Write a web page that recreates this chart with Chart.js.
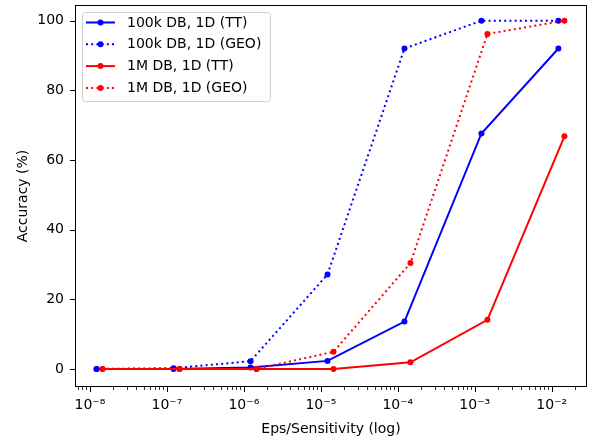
<!DOCTYPE html>
<html>
<head>
<meta charset="utf-8">
<script src="https://cdn.jsdelivr.net/npm/chart.js@4.4.0/dist/chart.umd.min.js"></script>
<style>
  html, body { margin: 0; padding: 0; background: #fff; }
  #wrap { width: 592px; height: 442px; position: relative; }
</style>
</head>
<body>
<div id="wrap"><canvas id="chart"></canvas></div>
<script>
// x positions (eps/sensitivity) per DB size
var X_100K = [1.22e-8, 1.22e-7, 1.22e-6, 1.22e-5, 1.22e-4, 1.22e-3, 1.22e-2];
var X_1M   = [1.46e-8, 1.46e-7, 1.46e-6, 1.46e-5, 1.46e-4, 1.46e-3, 1.46e-2];

// accuracy (%)
var ACC_100K_TT  = [0, 0, 0.4, 2.3, 13.6, 67.6, 92.0];
var ACC_100K_GEO = [0, 0.2, 2.2, 27.1, 92.0, 100, 100];
var ACC_1M_TT    = [0, 0, 0, 0, 1.9, 14.1, 66.8];
var ACC_1M_GEO   = [0, 0, 0, 4.9, 30.4, 96.2, 100];

var SERIES_LABELS = ['100k DB, 1D (TT)', '100k DB, 1D (GEO)', '1M DB, 1D (TT)', '1M DB, 1D (GEO)'];
var Y_TICKS = [0, 20, 40, 60, 80, 100];
var X_DECADES = [-9, -8, -7, -6, -5, -4, -3, -2];

var X_MIN = 6.4e-9, X_MAX = 2.87e-2;
var Y_MIN = -5.2, Y_MAX = 104.5;

var FONT = 'DejaVu Sans';
var SUP = { '-': '\u207B', '0': '\u2070', '1': '\u00B9', '2': '\u00B2', '3': '\u00B3', '4': '\u2074',
            '5': '\u2075', '6': '\u2076', '7': '\u2077', '8': '\u2078', '9': '\u2079' };

function pts(xs, ys) {
  return xs.map(function (x, i) { return { x: x, y: ys[i] }; });
}
function isMajor(v) {
  var e = Math.log10(v);
  return Math.abs(e - Math.round(e)) < 1e-9;
}

var xTickVals = [];
X_DECADES.forEach(function (d) {
  for (var m = 1; m <= 9; m++) {
    var v = m * Math.pow(10, d);
    if (v >= X_MIN && v <= X_MAX) xTickVals.push(v);
  }
});

function ds(label, xs, ys, color, dotted, order) {
  return {
    label: label,
    data: pts(xs, ys),
    showLine: true,
    borderColor: color,
    backgroundColor: color,
    borderWidth: 2,
    borderDash: dotted ? [2, 3.2] : [],
    pointRadius: 3,
    pointBorderWidth: 0,
    pointBackgroundColor: color,
    order: order
  };
}

// frame + tick marks drawn from the scales
var framePlugin = {
  id: 'frame',
  afterDraw: function (chart) {
    var c = chart.ctx, a = chart.chartArea;
    var xs = chart.scales.x, ys = chart.scales.y;
    c.save();
    c.strokeStyle = '#000';
    c.lineWidth = 1;
    c.strokeRect(Math.round(a.left) + 0.5, Math.round(a.top) + 0.5,
                 Math.round(a.right - a.left) - 1, Math.round(a.bottom - a.top) - 1);
    xTickVals.forEach(function (v) {
      var px = Math.round(xs.getPixelForValue(v)) + 0.5;
      var len = isMajor(v) ? 5 : 3;
      c.lineWidth = isMajor(v) ? 1 : 0.8;
      c.beginPath();
      c.moveTo(px, a.bottom);
      c.lineTo(px, a.bottom + len);
      c.stroke();
    });
    c.lineWidth = 1;
    Y_TICKS.forEach(function (v) {
      var py = Math.round(ys.getPixelForValue(v)) + 0.5;
      c.beginPath();
      c.moveTo(a.left, py);
      c.lineTo(a.left - 5, py);
      c.stroke();
    });
    c.restore();
  }
};

// matplotlib-style legend box in the upper left
var legendPlugin = {
  id: 'mplLegend',
  afterDraw: function (chart) {
    var c = chart.ctx;
    var x0 = 82, y0 = 12, w = 188, h = 89, r = 3;
    c.save();
    c.fillStyle = 'rgba(255,255,255,0.8)';
    c.strokeStyle = '#d0d0d0';
    c.lineWidth = 1;
    c.beginPath();
    c.roundRect(x0 + 0.5, y0 + 0.5, w, h, r);
    c.fill();
    c.stroke();
    chart.data.datasets.forEach(function (d, i) {
      var y = 22.5 + i * 21.8;
      c.strokeStyle = d.borderColor;
      c.lineWidth = d.borderWidth;
      c.setLineDash(d.borderDash);
      c.beginPath();
      c.moveTo(86, y);
      c.lineTo(115, y);
      c.stroke();
      c.setLineDash([]);
      c.fillStyle = d.pointBackgroundColor;
      c.beginPath();
      c.arc(100.5, y, d.pointRadius, 0, Math.PI * 2);
      c.fill();
      c.fillStyle = '#000';
      c.font = '14px "' + FONT + '"';
      c.textBaseline = 'middle';
      c.fillText(d.label, 127, y + 0.5);
    });
    c.restore();
  }
};

new Chart(document.getElementById('chart'), {
  type: 'scatter',
  data: {
    datasets: [
      ds(SERIES_LABELS[0], X_100K, ACC_100K_TT, '#0000ff', false, 3),
      ds(SERIES_LABELS[1], X_100K, ACC_100K_GEO, '#0000ff', true, 2),
      ds(SERIES_LABELS[2], X_1M, ACC_1M_TT, '#ff0000', false, 1),
      ds(SERIES_LABELS[3], X_1M, ACC_1M_GEO, '#ff0000', true, 0)
    ]
  },
  options: {
    responsive: true,
    maintainAspectRatio: false,
    animation: false,
    layout: { padding: { top: 5, right: 5, left: 0, bottom: 0 } },
    plugins: {
      legend: { display: false },
      tooltip: { enabled: false }
    },
    scales: {
      x: {
        type: 'logarithmic',
        min: X_MIN,
        max: X_MAX,
        afterBuildTicks: function (s) {
          s.ticks = xTickVals.map(function (v) { return { value: v }; });
        },
        afterFit: function (s) { s.height = 55; s.paddingLeft = 0; s.paddingRight = 0; },
        grid: { display: false, drawTicks: false },
        border: { display: false },
        ticks: {
          autoSkip: false,
          maxRotation: 0,
          padding: 10,
          color: '#000',
          font: { family: FONT, size: 14 },
          callback: function (v) {
            if (!isMajor(v)) return '';
            var e = String(Math.round(Math.log10(v)));
            return '10' + e.split('').map(function (ch) { return SUP[ch]; }).join('');
          }
        },
        title: {
          display: true,
          text: 'Eps/Sensitivity (log)',
          color: '#000',
          font: { family: FONT, size: 14 },
          padding: { top: 2, bottom: 4 }
        }
      },
      y: {
        min: Y_MIN,
        max: Y_MAX,
        afterBuildTicks: function (s) {
          s.ticks = Y_TICKS.map(function (v) { return { value: v }; });
        },
        afterFit: function (s) { s.width = 75; s.paddingTop = 0; s.paddingBottom = 0; },
        grid: { display: false, drawTicks: false },
        border: { display: false },
        ticks: {
          padding: 11,
          color: '#000',
          font: { family: FONT, size: 14 }
        },
        title: {
          display: true,
          text: 'Accuracy (%)',
          color: '#000',
          font: { family: FONT, size: 14 },
          padding: { top: 15, bottom: 0 }
        }
      }
    }
  },
  plugins: [framePlugin, legendPlugin]
});
</script>
</body>
</html>
